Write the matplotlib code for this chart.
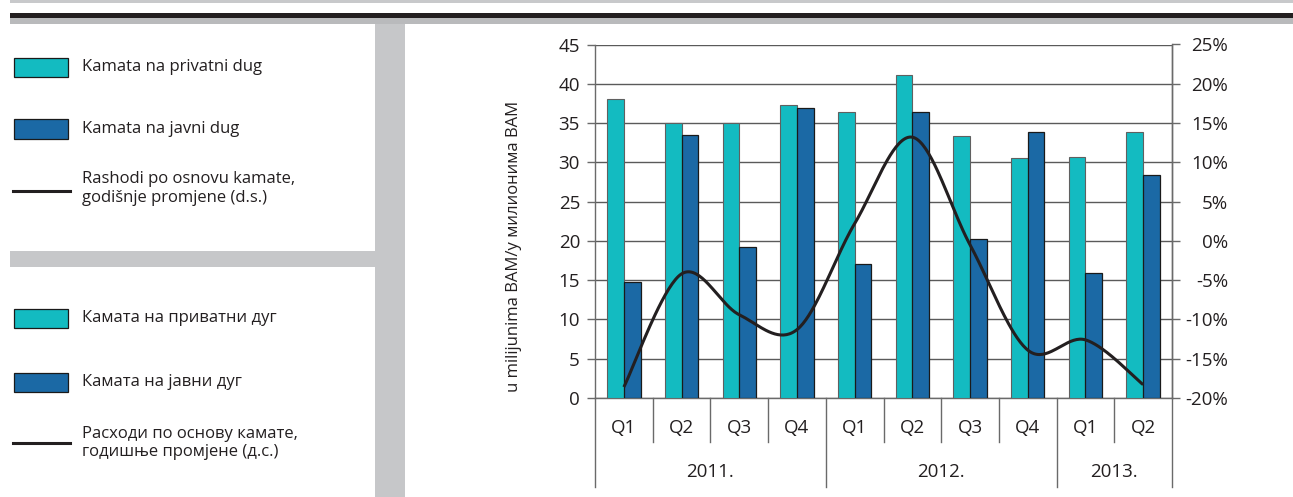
import numpy as np
import matplotlib
matplotlib.use("Agg")
import matplotlib.pyplot as plt
from matplotlib.patches import Rectangle
from matplotlib.lines import Line2D
import matplotlib.transforms as mtransforms

plt.rcParams['font.family'] = ['Open Sans', 'DejaVu Sans']

# ---- data ----
quarters = ["Q1", "Q2", "Q3", "Q4", "Q1", "Q2", "Q3", "Q4", "Q1", "Q2"]
years = ["2011.", "2012.", "2013."]
year_spans = [(0, 4), (4, 8), (8, 10)]
private_debt = [38.0, 35.0, 35.0, 37.3, 36.4, 41.1, 33.3, 30.5, 30.7, 33.8]
public_debt = [14.8, 33.5, 19.2, 36.9, 17.0, 36.4, 20.3, 33.8, 15.9, 28.4]
interest_yoy = [-18.6, -4.2, -9.4, -11.3, 2.2, 13.2, -0.5, -13.9, -12.6, -18.3]

left_ticks = [0, 5, 10, 15, 20, 25, 30, 35, 40, 45]
right_ticks = [-20, -15, -10, -5, 0, 5, 10, 15, 20, 25]

legend_lat = ["Kamata na privatni dug", "Kamata na javni dug",
              "Rashodi po osnovu kamate,\ngodišnje promjene (d.s.)"]
legend_cyr = ["Камата на приватни дуг", "Камата на јавни дуг",
              "Расходи по основу камате,\nгодишње промјене (д.с.)"]
ylabel = "u milijunima BAM/у милионима ВАМ"

TEAL = "#13BBC1"
BLUE = "#1B69A5"
LINE = "#231F20"
GRID = "#5a5a5a"

W, H = 1293, 497
fig = plt.figure(figsize=(W / 100, H / 100), dpi=100)


def fx(x):
    return x / W


def fy(y):
    return 1 - y / H


def band(x0, y0, x1, y1, color):
    fig.patches.append(Rectangle((fx(x0), fy(y1)), fx(x1) - fx(x0), fy(y0) - fy(y1),
                                 transform=fig.transFigure, facecolor=color,
                                 edgecolor="none", zorder=0))


# page frame bands
band(10, 0, W, 3, "#c8c9cb")
band(10, 13, W, 18.5, "#231f20")
band(10, 18.5, W, 24, "#b9babc")
band(375, 24, 405, H, "#c6c7c9")
band(10, 251, 375, 267, "#c6c7c9")

# ---- chart ----
ax = fig.add_axes([fx(595), fy(398), fx(1172) - fx(595), fy(44.5) - fy(398)])
ax2 = ax.twinx()
ax.set_zorder(1)
ax2.set_zorder(2)
ax2.patch.set_visible(False)

n = len(quarters)
idx = np.arange(n)
bw = 0.29
ax.bar(idx + 0.5 - bw / 2, private_debt, width=bw, color=TEAL,
       edgecolor="#606060", linewidth=0.8, zorder=3)
ax.bar(idx + 0.5 + bw / 2, public_debt, width=bw, color=BLUE,
       edgecolor="#1a1a1a", linewidth=0.9, zorder=3)

ax.set_xlim(0, n)
ax.set_ylim(0, 45)
ax.set_yticks(left_ticks)
ax.yaxis.grid(True, color=GRID, linewidth=1.0, zorder=0)
ax.set_axisbelow(True)
ax.set_xticks([])
for s in ["top"]:
    ax.spines[s].set_visible(False)
for s in ["left", "right", "bottom"]:
    ax.spines[s].set_color("#6a6a6a")
    ax.spines[s].set_linewidth(1.0)
ax.tick_params(axis="y", direction="out", length=5.8, width=1.0, color="#6a6a6a",
               labelsize=13.5, pad=5, labelcolor="#231f20")
ax.set_ylabel(ylabel, fontsize=12, color="#231f20")
ax.yaxis.set_label_coords(-0.1265, 0.43)


# smoothed line (Catmull-Rom / Bezier smoothing through the points)
def smooth(xs, ys, steps=40):
    xs = np.asarray(xs, float)
    ys = np.asarray(ys, float)
    px = np.concatenate([[xs[0]], xs, [xs[-1]]])
    py = np.concatenate([[ys[0]], ys, [ys[-1]]])
    outx, outy = [], []
    t = np.linspace(0, 1, steps)
    for i in range(1, len(px) - 2):
        p0, p1, p2, p3 = [np.array([px[j], py[j]]) for j in (i - 1, i, i + 1, i + 2)]
        c1 = p1 + (p2 - p0) / 6
        c2 = p2 - (p3 - p1) / 6
        b = ((1 - t) ** 3)[:, None] * p1 + (3 * (1 - t) ** 2 * t)[:, None] * c1 \
            + (3 * (1 - t) * t ** 2)[:, None] * c2 + (t ** 3)[:, None] * p2
        outx.extend(b[:, 0])
        outy.extend(b[:, 1])
    return np.array(outx), np.array(outy)


sx, sy = smooth(idx + 0.5, interest_yoy)
ax2.plot(sx, sy, color=LINE, linewidth=2.2, zorder=5, solid_capstyle="butt")
ax2.set_ylim(-20, 25)
ax2.set_yticks(right_ticks)
ax2.set_yticklabels([f"{v}%" for v in right_ticks])
ax2.tick_params(axis="y", direction="out", length=5.8, width=1.0, color="#6a6a6a",
                labelsize=13.5, pad=34.5, labelcolor="#231f20")
for lab in ax2.get_yticklabels():
    lab.set_horizontalalignment("right")
for s in ["top", "left", "bottom"]:
    ax2.spines[s].set_visible(False)
ax2.spines["right"].set_color("#6a6a6a")
ax2.spines["right"].set_linewidth(1.0)

# multi-level category axis
trans = mtransforms.blended_transform_factory(ax.transData, ax.transAxes)
axh = 398 - 44.5
q_drop = -44 / axh
y_drop = -89 / axh
year_edges = sorted({e for span in year_spans for e in span})
for b in range(n + 1):
    y_end = y_drop if b in year_edges else q_drop
    ax.add_line(Line2D([b, b], [0, y_end], transform=trans, color="#6a6a6a",
                       linewidth=1.0, clip_on=False))
for i, q in enumerate(quarters):
    ax.text(i + 0.5, -30 / axh, q, transform=trans, ha="center", va="center",
            fontsize=13.5, color="#231f20")
for (a, b), yr in zip(year_spans, years):
    ax.text((a + b) / 2, -74 / axh, yr, transform=trans, ha="center", va="center",
            fontsize=13.5, color="#231f20")


# ---- legends ----
def legend_block(labels, ys, line_y):
    for lab, y in zip(labels[:2], ys[:2]):
        color = TEAL if lab is labels[0] else BLUE
        fig.patches.append(Rectangle((fx(14), fy(y + 9.5)), fx(68) - fx(14), fy(y - 9.5) - fy(y + 9.5),
                                     transform=fig.transFigure, facecolor=color,
                                     edgecolor="#1a1a1a", linewidth=0.9, zorder=2))
        fig.text(fx(82), fy(y), lab, fontsize=12, color="#231f20", va="center", ha="left")
    fig.add_artist(Line2D([fx(13), fx(70)], [fy(line_y), fy(line_y)], transform=fig.transFigure,
                          color=LINE, linewidth=2.2))
    fig.text(fx(82), fy(ys[2]), labels[2], fontsize=12, color="#231f20", va="center",
             ha="left", linespacing=1.25)


legend_block(legend_lat, [67, 129, 189], 190.5)
legend_block(legend_cyr, [318.5, 382, 443], 443)

fig.savefig("out.png", dpi=100)
